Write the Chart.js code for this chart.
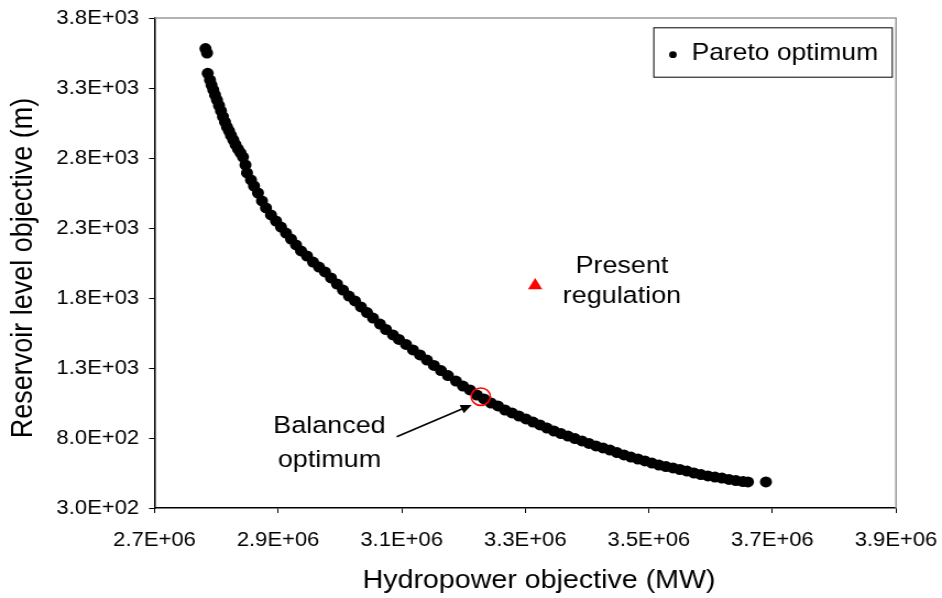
<!DOCTYPE html>
<html><head><meta charset="utf-8">
<script src="https://cdn.jsdelivr.net/npm/chart.js@4"></script>
<style>
html,body{margin:0;padding:0;background:#fff;overflow:hidden;}
canvas{display:block;}
</style></head><body>
<canvas id="c" width="856" height="598" style="width:942px;height:598px"></canvas>
<script>
// ---- data ----
const xTickValues = [2.7e6, 2.9e6, 3.1e6, 3.3e6, 3.5e6, 3.7e6, 3.9e6];
const xTickLabels = ['2.7E+06', '2.9E+06', '3.1E+06', '3.3E+06', '3.5E+06', '3.7E+06', '3.9E+06'];
const yTickValues = [300, 800, 1300, 1800, 2300, 2800, 3300, 3800];
const yTickLabels = ['3.0E+02', '8.0E+02', '1.3E+03', '1.8E+03', '2.3E+03', '2.8E+03', '3.3E+03', '3.8E+03'];

const paretoX = [2.7825e6, 2.7850e6,
  2.7861e6, 2.7898e6, 2.7922e6, 2.7951e6, 2.7979e6, 2.8011e6, 2.8044e6, 2.8076e6, 2.8108e6, 2.8141e6,
  2.8173e6, 2.8206e6, 2.8238e6, 2.8275e6, 2.8311e6, 2.8351e6, 2.8392e6, 2.8432e6, 2.8472e6, 2.8497e6,
  2.8561e6, 2.8610e6, 2.8675e6, 2.8739e6, 2.8804e6, 2.8885e6, 2.8966e6, 2.9047e6, 2.9128e6, 2.9209e6,
  2.9290e6, 2.9371e6, 2.9468e6, 2.9565e6, 2.9662e6, 2.9759e6, 2.9856e6, 2.9953e6, 3.0050e6, 3.0147e6,
  3.0244e6, 3.0341e6, 3.0439e6, 3.0536e6, 3.0649e6, 3.0746e6, 3.0859e6, 3.0956e6, 3.1070e6, 3.1183e6,
  3.1296e6, 3.1409e6, 3.1523e6, 3.1636e6, 3.1749e6, 3.1879e6, 3.1992e6, 3.2105e6, 3.2218e6, 3.2332e6,
  3.2445e6, 3.2558e6, 3.2672e6, 3.2785e6, 3.2898e6, 3.3011e6, 3.3125e6, 3.3238e6, 3.3351e6, 3.3464e6,
  3.3578e6, 3.3691e6, 3.3804e6, 3.3917e6, 3.4031e6, 3.4144e6, 3.4257e6, 3.4371e6, 3.4484e6, 3.4597e6,
  3.4710e6, 3.4824e6, 3.4937e6, 3.5050e6, 3.5163e6, 3.5277e6, 3.5390e6, 3.5503e6, 3.5617e6, 3.5730e6,
  3.5843e6, 3.5956e6, 3.6070e6, 3.6183e6, 3.6296e6, 3.6409e6, 3.6523e6, 3.6604e6, 3.6895e6];
const paretoY = [3582, 3550,
  3405, 3357, 3321, 3286, 3250, 3214, 3175, 3136, 3096, 3057,
  3021, 2993, 2961, 2929, 2896, 2864, 2836, 2807, 2750, 2693,
  2643, 2600, 2550, 2493, 2443, 2393, 2350, 2307, 2264, 2221,
  2179, 2136, 2100, 2057, 2021, 1986, 1943, 1900, 1857, 1814,
  1779, 1736, 1696, 1657, 1614, 1575, 1536, 1504, 1468, 1429,
  1393, 1357, 1318, 1282, 1246, 1207, 1171, 1143, 1107, 1079,
  1050, 1029, 1000, 979, 957, 936, 914, 893, 871, 850,
  832, 814, 796, 779, 761, 743, 729, 714, 696, 679,
  664, 650, 636, 621, 607, 596, 586, 575, 564, 550,
  539, 529, 521, 514, 504, 496, 489, 486, 486];

const presentX = [3.316e6];
const presentY = [1890];
const balancedX = [3.228e6];
const balancedY = [1095];

// annotation anchors (data units)
const arrowTail = [3.0919e6, 809];
const arrowHead = [3.2133e6, 1036];
const balancedLabel = { x: 2.9832e6, lines: [['Balanced', 882], ['optimum', 644]] };
const presentLabel = { x: 3.4565e6, lines: [['Present', 2025], ['regulation', 1811]] };

const FONT = '"Liberation Sans", Arial, Helvetica, sans-serif';
const toPts = (xs, ys) => xs.map((v, i) => ({ x: v, y: ys[i] }));

const extras = {
  id: 'extras',
  afterDraw(chart) {
    const { ctx, chartArea: a, scales: { x, y } } = chart;
    ctx.save();
    // top and right plot border
    ctx.strokeStyle = '#9a9a9a';
    ctx.lineWidth = 1.5;
    ctx.beginPath();
    ctx.moveTo(a.left, a.top);
    ctx.lineTo(a.right, a.top);
    ctx.lineTo(a.right, a.bottom);
    ctx.stroke();

    // axis titles
    ctx.fillStyle = '#000';
    ctx.font = '26px ' + FONT;
    ctx.textAlign = 'center';
    ctx.textBaseline = 'alphabetic';
    ctx.fillText('Hydropower objective (MW)', 489.8, 588);
    ctx.save();
    ctx.translate(28.8, 268);
    ctx.rotate(-Math.PI / 2);
    ctx.font = '27px ' + FONT;
    ctx.fillText('Reservoir level objective (m)', 0, 0);
    ctx.restore();

    // legend
    const bw = 216.7, bh = 49.4;
    const bx = a.right - 3.9 - bw, by = a.top + 9.3;
    ctx.fillStyle = '#fff';
    ctx.fillRect(bx, by, bw, bh);
    ctx.strokeStyle = '#000';
    ctx.lineWidth = 1;
    ctx.strokeRect(bx + 0.5, by + 0.5, bw, bh);
    ctx.fillStyle = '#000';
    ctx.beginPath();
    ctx.arc(bx + 17.9, by + 27.4, 3.4, 0, Math.PI * 2);
    ctx.fill();
    ctx.font = '24px ' + FONT;
    ctx.textAlign = 'left';
    ctx.textBaseline = 'middle';
    ctx.fillText(chart.data.datasets[2].label, bx + 34.9, by + 26);

    // annotation labels
    ctx.font = '24.5px ' + FONT;
    ctx.textAlign = 'center';
    ctx.textBaseline = 'middle';
    [balancedLabel, presentLabel].forEach(lab => {
      const px = x.getPixelForValue(lab.x);
      lab.lines.forEach(([t, v]) => ctx.fillText(t, px, y.getPixelForValue(v)));
    });

    // arrow
    const tx = x.getPixelForValue(arrowTail[0]), ty = y.getPixelForValue(arrowTail[1]);
    const hx = x.getPixelForValue(arrowHead[0]), hy = y.getPixelForValue(arrowHead[1]);
    const ang = Math.atan2(hy - ty, hx - tx);
    const hl = 10, hw = 4.5;
    ctx.strokeStyle = '#000';
    ctx.lineWidth = 1.6;
    ctx.beginPath();
    ctx.moveTo(tx, ty);
    ctx.lineTo(hx - Math.cos(ang) * hl * 0.8, hy - Math.sin(ang) * hl * 0.8);
    ctx.stroke();
    ctx.beginPath();
    ctx.moveTo(hx, hy);
    ctx.lineTo(hx - Math.cos(ang) * hl - Math.sin(ang) * hw, hy - Math.sin(ang) * hl + Math.cos(ang) * hw);
    ctx.lineTo(hx - Math.cos(ang) * hl + Math.sin(ang) * hw, hy - Math.sin(ang) * hl - Math.cos(ang) * hw);
    ctx.closePath();
    ctx.fill();
    ctx.restore();
  }
};

new Chart(document.getElementById('c'), {
  type: 'scatter',
  data: {
    datasets: [
      { label: 'Balanced optimum', data: toPts(balancedX, balancedY), pointStyle: 'circle', pointRadius: 8.7,
        pointBackgroundColor: 'rgba(0,0,0,0)', pointBorderColor: '#ff0000', pointBorderWidth: 1.6, order: 0 },
      { label: 'Present regulation', data: toPts(presentX, presentY), pointStyle: 'triangle', pointRadius: 7.5,
        pointBackgroundColor: '#ff0000', pointBorderColor: '#ff0000', pointBorderWidth: 0, order: 1 },
      { label: 'Pareto optimum', data: toPts(paretoX, paretoY), pointStyle: 'circle', pointRadius: 5.5,
        pointBackgroundColor: '#000', pointBorderColor: '#000', pointBorderWidth: 0, order: 2 }
    ]
  },
  options: {
    responsive: false,
    animation: false,
    devicePixelRatio: 1,
    events: [],
    layout: { padding: { top: 18, right: 41.8, left: 0, bottom: 0 } },
    plugins: { legend: { display: false }, tooltip: { enabled: false } },
    scales: {
      x: {
        type: 'linear', min: 2.7e6, max: 3.9e6,
        afterBuildTicks: s => { s.ticks = xTickValues.map(v => ({ value: v })); },
        afterFit: s => { s.height = 90; s.paddingLeft = 0; s.paddingRight = 0; },
        ticks: { callback: v => xTickLabels[xTickValues.indexOf(v)], font: { family: FONT, size: 20 }, color: '#000',
                 padding: 15, maxRotation: 0, autoSkip: false },
        grid: { drawOnChartArea: false, drawTicks: true, tickLength: 5, color: '#000', lineWidth: 1 },
        border: { display: true, color: '#000', width: 1.5 }
      },
      y: {
        type: 'linear', min: 300, max: 3800,
        afterBuildTicks: s => { s.ticks = yTickValues.map(v => ({ value: v })); },
        afterFit: s => { s.width = 140.4; s.paddingTop = 0; s.paddingBottom = 0; },
        ticks: { callback: v => yTickLabels[yTickValues.indexOf(v)], font: { family: FONT, size: 20 }, color: '#000',
                 padding: 9, autoSkip: false },
        grid: { drawOnChartArea: false, drawTicks: true, tickLength: 5, color: '#000', lineWidth: 1 },
        border: { display: true, color: '#000', width: 1.5 }
      }
    }
  },
  plugins: [extras]
});
</script>
</body></html>
